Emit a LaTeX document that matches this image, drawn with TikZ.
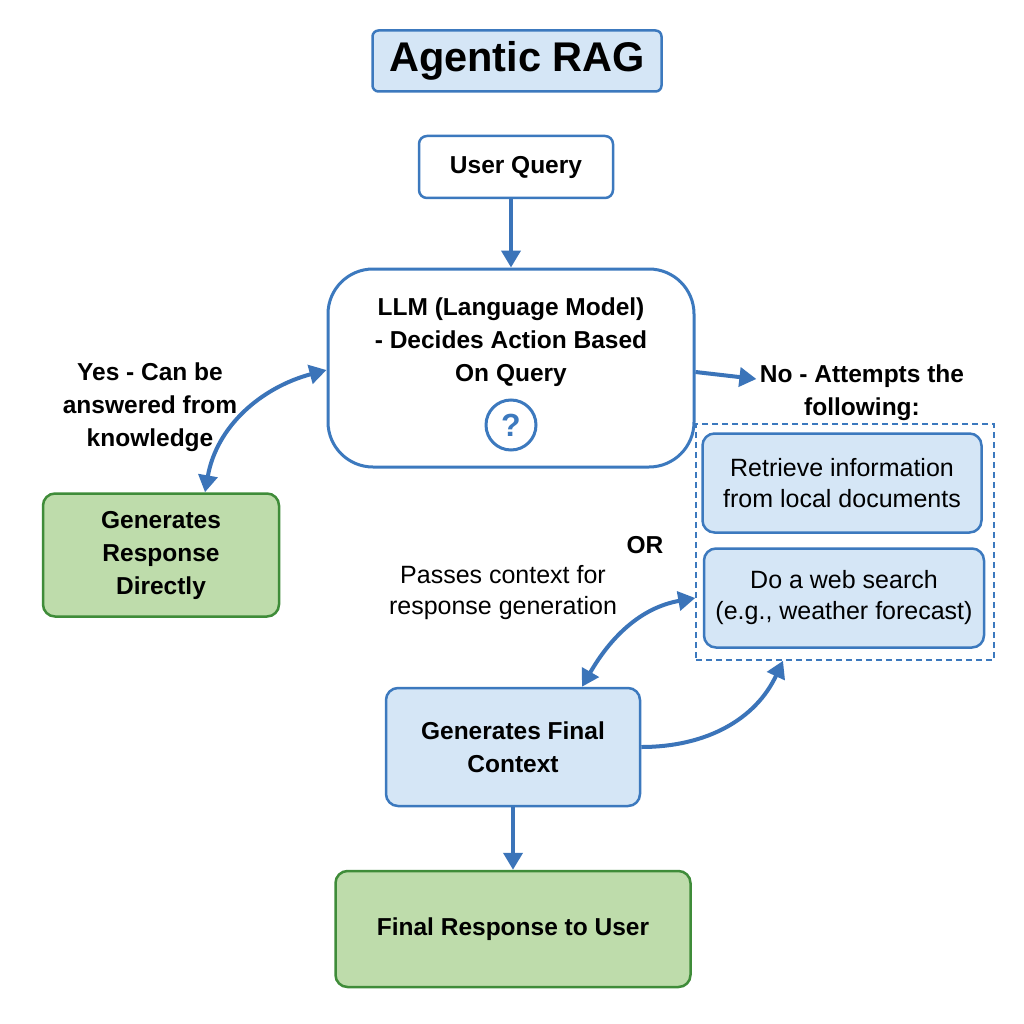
\documentclass[tikz,border=0pt]{standalone}
\usepackage{fontspec}
\setmainfont{Liberation Sans}
\usetikzlibrary{arrows.meta}
\definecolor{boxblue}{HTML}{3C79BE}
\definecolor{fillblue}{HTML}{D5E6F6}
\definecolor{boxgreen}{HTML}{3F8C39}
\definecolor{fillgreen}{HTML}{BEDCAB}
\definecolor{arrowblue}{HTML}{3B74B9}
\begin{document}
\begin{tikzpicture}[x=1pt, y=1pt,
    bluebox/.style={draw=boxblue, fill=fillblue, line width=2.5pt, rounded corners=12pt, inner sep=0pt, align=center},
    whitebox/.style={draw=boxblue, fill=white, line width=2.5pt, rounded corners=8pt, inner sep=0pt, align=center},
    greenbox/.style={draw=boxgreen, fill=fillgreen, line width=2.5pt, rounded corners=12pt, inner sep=0pt, align=center},
    boldtext/.style={font=\fontsize{24.5}{33}\selectfont\bfseries, align=center},
    plaintext/.style={font=\fontsize{25}{31}\selectfont, align=center},
    flow/.style={draw=arrowblue, line width=4pt, -{Triangle[length=17pt,width=19pt]}},
    twoway/.style={draw=arrowblue, line width=4pt, {Triangle[length=17pt,width=19pt]}-{Triangle[length=17pt,width=19pt]}}]
            \useasboundingbox[fill=white] (0,0) rectangle (1024,-1024);
            
            \node[bluebox, minimum width=289, minimum height=61, rounded corners=6pt, font=\fontsize{41.5}{44}\selectfont\bfseries] (title) at (517,-61) {Agentic RAG};
            \node[whitebox, minimum width=194, minimum height=62, boldtext] (query) at (516,-167) {User Query};
            
            \node[draw=boxblue, fill=white, line width=3pt, rounded corners=45pt, minimum width=366, minimum height=198] (llm) at (511,-368) {};
            \node[boldtext] (llmtext) at (511,-342) {LLM (Language Model)\\- Decides Action Based\\On Query};
            \node[circle, draw=boxblue, line width=3pt, minimum size=50, inner sep=0pt, text=boxblue, font=\fontsize{32}{32}\selectfont\bfseries] (qmark) at (511,-425) {?};
            
            \node[greenbox, minimum width=236, minimum height=123, boldtext] (direct) at (161,-555) {Generates\\Response\\Directly};
            \node[boldtext] (yes) at (150,-407) {Yes - Can be\\answered from\\knowledge};
            
            \node[boldtext] (no) at (862,-393) {No - Attempts the\\following:};
            \node[draw=boxblue, dashed, line width=1.5pt, dash pattern=on 6pt off 4pt, minimum width=298, minimum height=236, inner sep=0pt] (options) at (845,-542) {};
            \node[bluebox, minimum width=279, minimum height=99, plaintext] (local) at (842,-483) {Retrieve information\\from local documents};
            \node[bluebox, minimum width=280, minimum height=99, plaintext] (web) at (844,-598) {Do a web search\\(e.g., weather forecast)};
            \node[boldtext] (or) at (645,-545) {OR};
            
            \node[plaintext] (passes) at (503,-593) {Passes context for\\response generation};
            \node[bluebox, minimum width=254, minimum height=118, boldtext] (context) at (513,-747) {Generates Final\\Context};
            \node[greenbox, minimum width=355, minimum height=116, boldtext] (final) at (513,-929) {Final Response to User};
            
            \draw[flow] (llm.north |- query.south) -- (llm.north);
            \draw[twoway] ([xshift=44]direct.north) to[out=80,in=195] ([yshift=-2]llm.west);
            \draw[flow] ([yshift=-4]llm.east) -- ([yshift=14]no.west);
            \draw[twoway] ([xshift=69]context.north) to[out=60,in=190] (options.west |- web.center);
            \draw[flow] (context.east) to[out=0,in=-115] ([xshift=-62]options.south);
            \draw[flow] (context) -- (final);
        \end{tikzpicture}
\end{document}
